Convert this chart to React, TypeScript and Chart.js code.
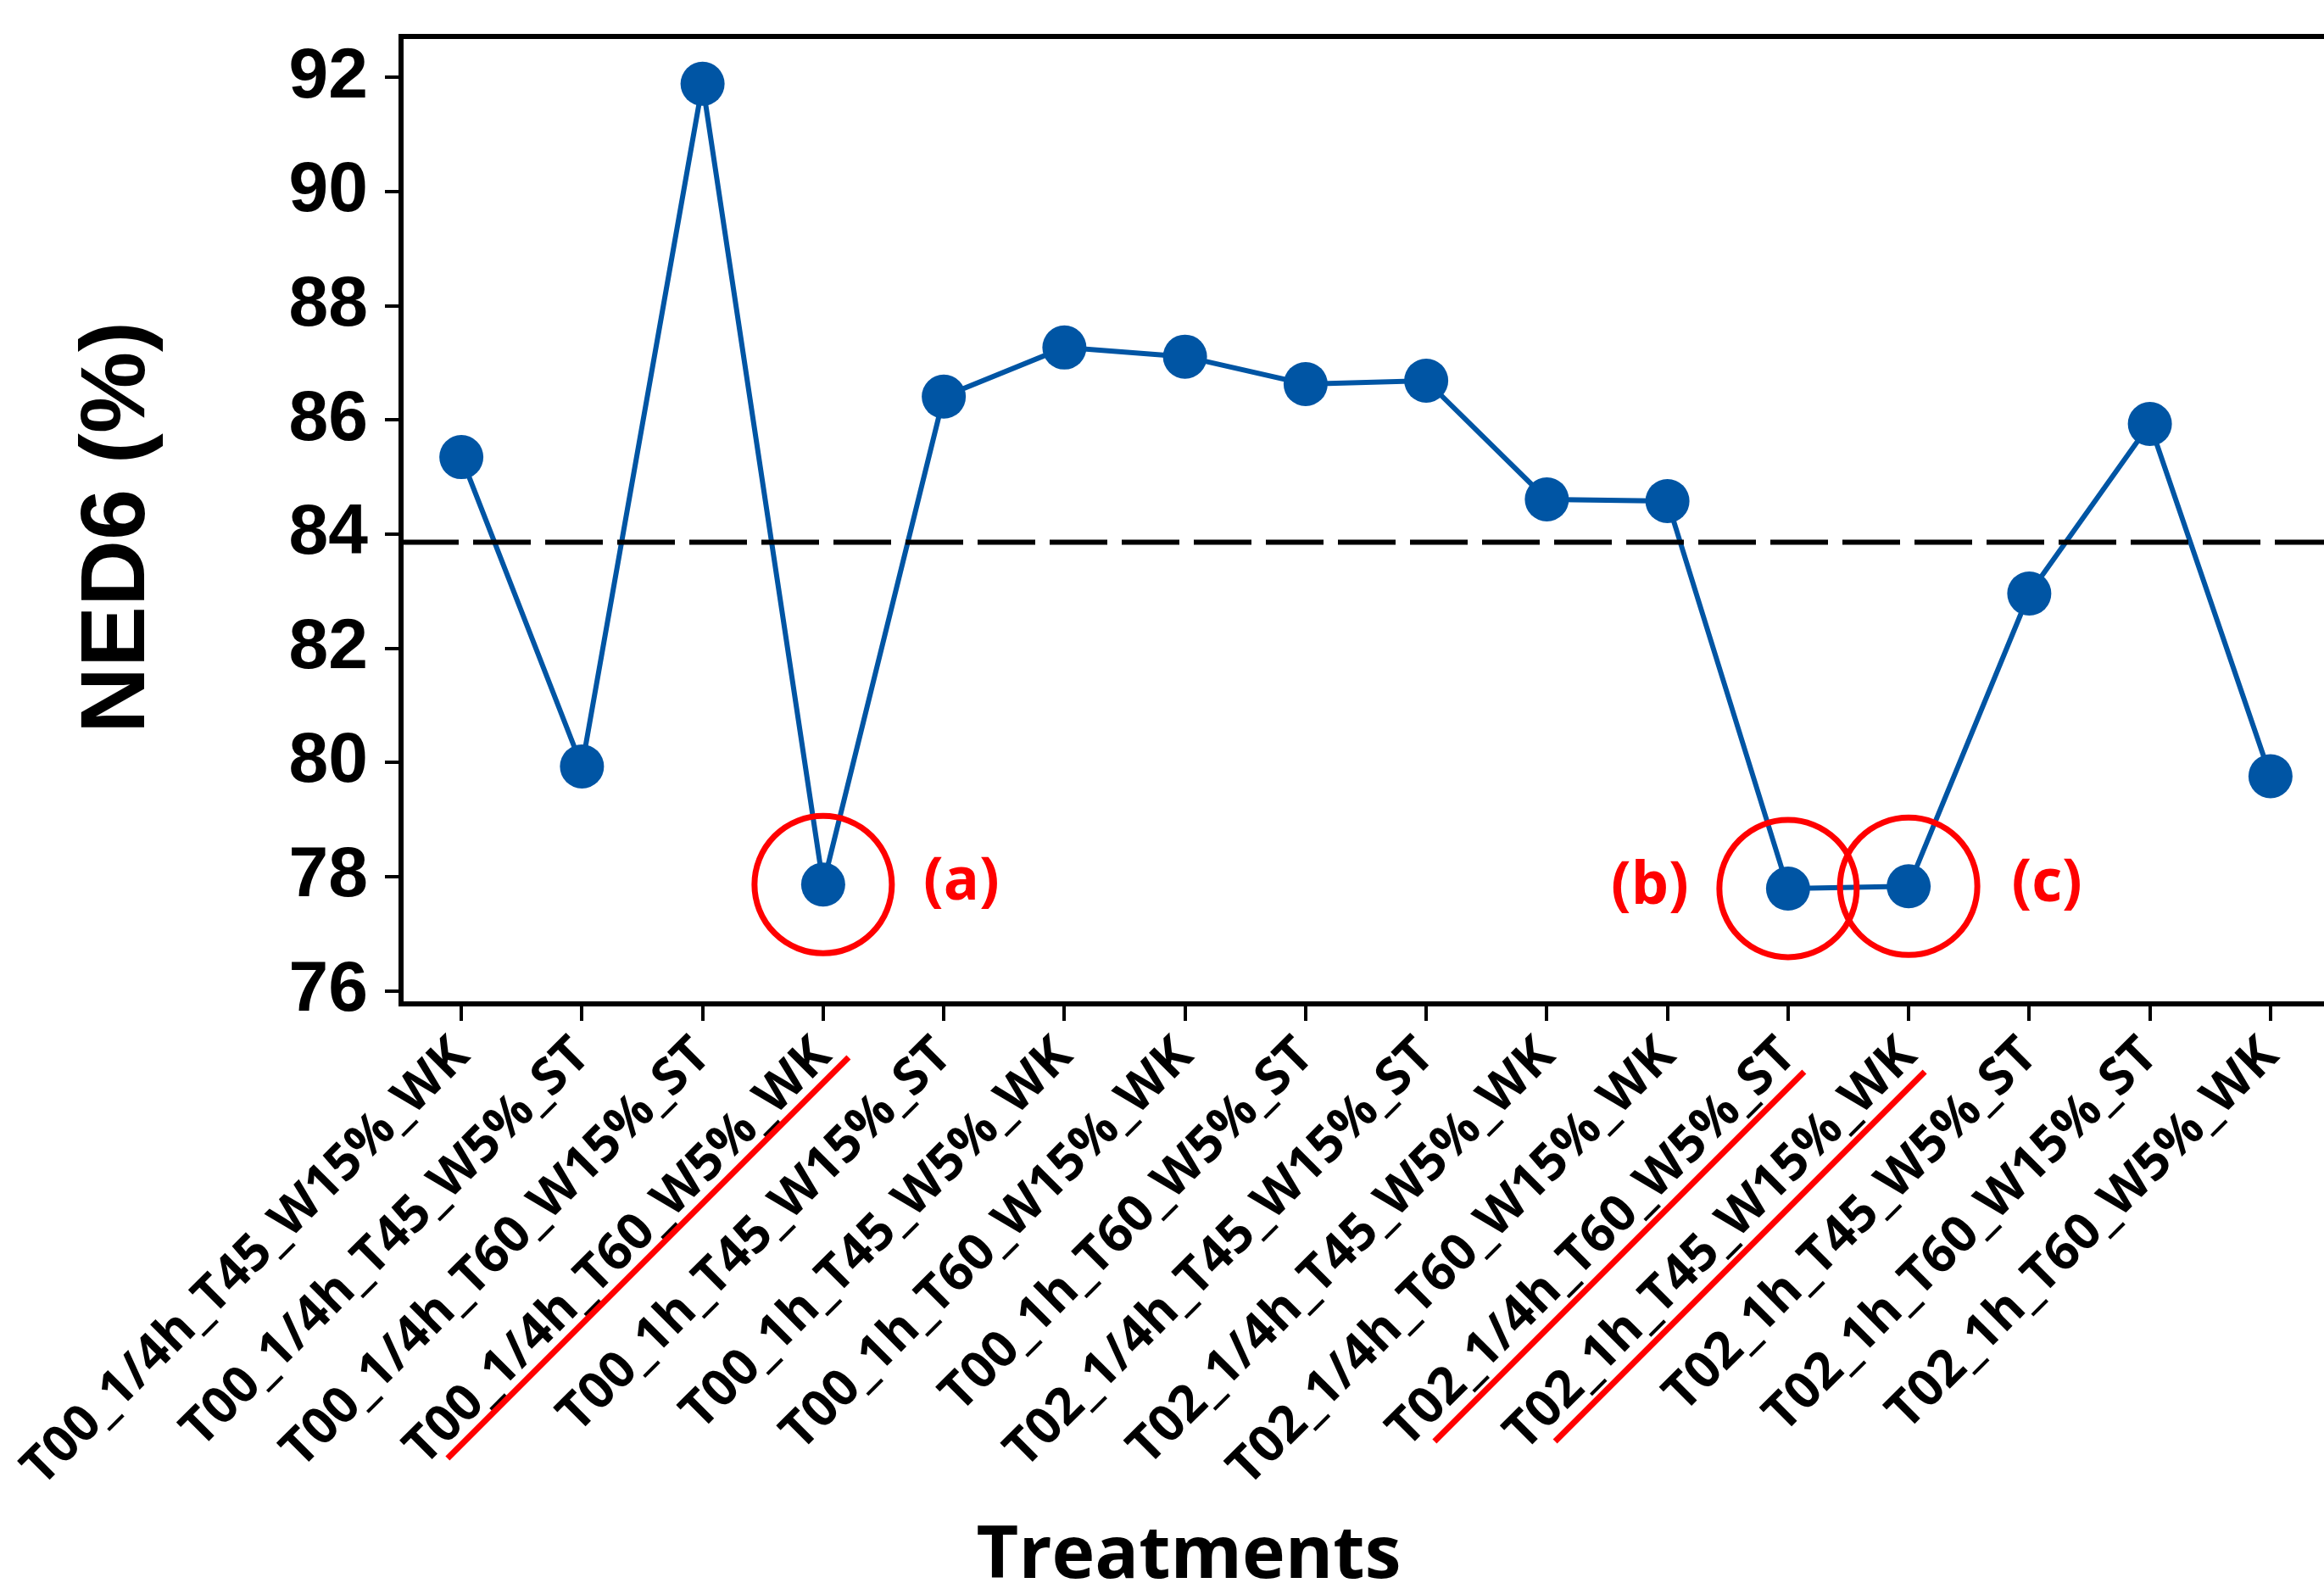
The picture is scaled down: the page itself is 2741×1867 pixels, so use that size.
import React, { useEffect, useRef } from 'react';
import { Chart, registerables } from 'chart.js';

Chart.register(...registerables);

const CATEGORIES: string[] = [
  'T00_1/4h_T45_W15%_WK',
  'T00_1/4h_T45_W5%_ST',
  'T00_1/4h_T60_W15%_ST',
  'T00_1/4h_T60_W5%_WK',
  'T00_1h_T45_W15%_ST',
  'T00_1h_T45_W5%_WK',
  'T00_1h_T60_W15%_WK',
  'T00_1h_T60_W5%_ST',
  'T02_1/4h_T45_W15%_ST',
  'T02_1/4h_T45_W5%_WK',
  'T02_1/4h_T60_W15%_WK',
  'T02_1/4h_T60_W5%_ST',
  'T02_1h_T45_W15%_WK',
  'T02_1h_T45_W5%_ST',
  'T02_1h_T60_W15%_ST',
  'T02_1h_T60_W5%_WK',
];

const NED6_VALUES: number[] = [
  85.35, 79.93, 91.89, 77.86, 86.41, 87.27, 87.11, 86.63,
  86.69, 84.61, 84.58, 77.79, 77.83, 82.96, 85.93, 79.76,
];

const MEAN_LINE = 83.86;
const Y_TICKS: number[] = [76, 78, 80, 82, 84, 86, 88, 90, 92];
const Y_MIN = 75.77;
const Y_MAX = 92.72;

const HIGHLIGHT_INDEX: number[] = [3, 11, 12];
const HIGHLIGHT_LABEL: string[] = ['(a)', '(b)', '(c)'];
const HIGHLIGHT_SIDE: number[] = [1, -1, 1];

const Y_TITLE = 'NED6 (%)';
const X_TITLE = 'Treatments';

const BLUE = '#0055A4';
const RED = '#FF0000';

const CANVAS_W = 2780;
const CANVAS_H = 1867;

// underline styling per highlighted category: [dx from tick, dy below axis, length]
const UNDERLINE_STYLE: number[][] = [
  [30, 63, 473],
  [19, 80, 436],
  [19, 80, 436],
];

const overlayPlugin = {
  id: 'overlay',
  afterDatasetsDraw(chart: any) {
    const { ctx, chartArea } = chart;
    const xs = chart.scales.x;
    const ys = chart.scales.y;
    ctx.save();
    // mean dashed line
    const my = ys.getPixelForValue(MEAN_LINE);
    ctx.strokeStyle = '#000';
    ctx.lineWidth = 6;
    ctx.setLineDash([68, 17]);
    ctx.beginPath();
    ctx.moveTo(chartArea.left, my);
    ctx.lineTo(chartArea.right, my);
    ctx.stroke();
    ctx.setLineDash([]);

    // frame top & right
    ctx.lineWidth = 6;
    ctx.beginPath();
    ctx.moveTo(chartArea.left - 2, chartArea.top);
    ctx.lineTo(chartArea.right, chartArea.top);
    ctx.lineTo(chartArea.right, chartArea.bottom);
    ctx.stroke();

    // red circles and labels
    ctx.strokeStyle = RED;
    ctx.fillStyle = RED;
    ctx.lineWidth = 7;
    ctx.font = "bold 70px 'Open Sans', sans-serif";
    ctx.textAlign = 'center';
    ctx.textBaseline = 'middle';
    HIGHLIGHT_INDEX.forEach((idx, k) => {
      const px = xs.getPixelForValue(idx);
      const py = ys.getPixelForValue(NED6_VALUES[idx]);
      ctx.beginPath();
      ctx.arc(px, py, 81, 0, Math.PI * 2);
      ctx.stroke();
      ctx.fillText(HIGHLIGHT_LABEL[k], px + HIGHLIGHT_SIDE[k] * 163, py - 2);
    });

    // red underline of category labels
    ctx.lineWidth = 7;
    HIGHLIGHT_INDEX.forEach((idx, k) => {
      const [dx, dy, len] = UNDERLINE_STYLE[k];
      const tx = xs.getPixelForValue(idx) + dx;
      const ty = chartArea.bottom + dy;
      ctx.beginPath();
      ctx.moveTo(tx, ty);
      ctx.lineTo(tx - len, ty + len);
      ctx.stroke();
    });

    ctx.restore();
  },
  afterDraw(chart: any) {
    const { ctx } = chart;
    ctx.save();
    ctx.fillStyle = '#000';
    ctx.font = "bold 108px 'Liberation Sans', Arial, sans-serif";
    ctx.textAlign = 'center';
    ctx.textBaseline = 'middle';
    ctx.translate(140, 622);
    ctx.rotate(-Math.PI / 2);
    ctx.fillText(Y_TITLE, 0, 0);
    ctx.restore();

    ctx.save();
    ctx.fillStyle = '#000';
    ctx.font = "bold 86px 'Open Sans', sans-serif";
    ctx.textAlign = 'center';
    ctx.textBaseline = 'alphabetic';
    ctx.fillText(X_TITLE, 1402, 1861);
    ctx.restore();
  },
};

export default function App() {
  const ref = useRef<HTMLCanvasElement | null>(null);

  useEffect(() => {
    if (!ref.current) return;
    const chart = new Chart(ref.current, {
      type: 'line',
      data: {
        labels: CATEGORIES,
        datasets: [
          {
            data: NED6_VALUES,
            borderColor: BLUE,
            backgroundColor: BLUE,
            borderWidth: 6,
            pointRadius: 26,
            pointBackgroundColor: BLUE,
            pointBorderWidth: 0,
            tension: 0,
            fill: false,
          },
        ],
      },
      options: {
        responsive: false,
        animation: false,
        devicePixelRatio: 1,
        events: [],
        layout: { padding: { top: 43, right: CANVAS_W - 2749, left: 0, bottom: 0 } },
        plugins: {
          legend: { display: false },
          tooltip: { enabled: false },
          title: { display: false },
        },
        scales: {
          x: {
            type: 'category',
            offset: true,
            grid: {
              display: true,
              drawOnChartArea: false,
              drawTicks: true,
              tickLength: 20,
              lineWidth: 4,
              color: '#000',
              offset: false,
            },
            border: { display: true, color: '#000', width: 6 },
            ticks: {
              autoSkip: false,
              maxRotation: 45,
              minRotation: 45,
              padding: 6,
              color: '#000',
              font: { family: "'Open Sans', sans-serif", weight: 'bold', size: 60 },
            },
            afterFit: (s: any) => {
              s.height = CANVAS_H - 1184;
            },
          },
          y: {
            type: 'linear',
            min: Y_MIN,
            max: Y_MAX,
            grid: {
              display: true,
              drawOnChartArea: false,
              drawTicks: true,
              tickLength: 19,
              lineWidth: 4,
              color: '#000',
            },
            border: { display: true, color: '#000', width: 6 },
            ticks: {
              padding: 20,
              color: '#000',
              font: { family: "'Liberation Sans', Arial, sans-serif", weight: 'bold', size: 84 },
            },
            afterBuildTicks: (s: any) => {
              s.ticks = Y_TICKS.map((v) => ({ value: v }));
            },
            afterFit: (s: any) => {
              s.width = 473;
              s.paddingTop = 0;
              s.paddingBottom = 0;
            },
          },
        },
      },
      plugins: [overlayPlugin],
    } as any);
    return () => chart.destroy();
  }, []);

  return (
    <div
      style={{
        position: 'fixed',
        left: 0,
        top: 0,
        width: '2741px',
        height: '1867px',
        overflow: 'hidden',
        background: '#fff',
      }}
    >
      <canvas
        ref={ref}
        width={CANVAS_W}
        height={CANVAS_H}
        style={{ display: 'block', width: CANVAS_W + 'px', height: CANVAS_H + 'px' }}
      />
    </div>
  );
}
